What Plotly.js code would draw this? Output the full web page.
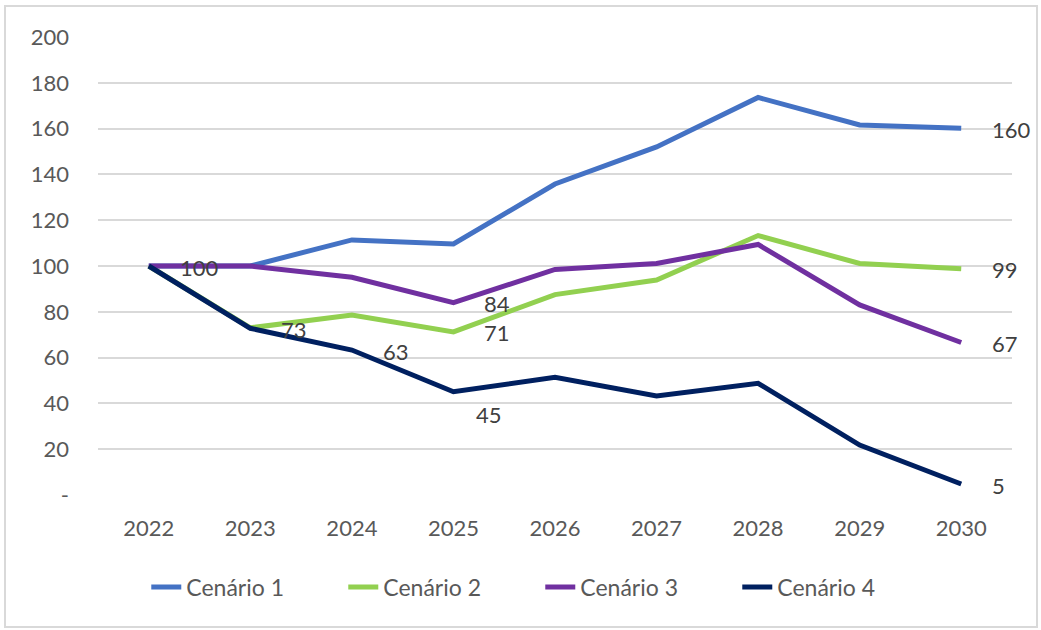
<!DOCTYPE html>
<html>
<head>
<meta charset="utf-8">
<script src="https://cdn.plot.ly/plotly-3.0.1.min.js"></script>
<style>
  html, body { margin: 0; padding: 0; background: #fff; }
  #chart { position: absolute; left: 0; top: 0; width: 1041px; height: 630px; }
  #frame { position: absolute; left: 4px; top: 5px; width: 1030px; height: 619px;
           border: 2px solid #d9d9d9; pointer-events: none; }
</style>
</head>
<body>
<div id="chart"></div>
<div id="frame"></div>
<script>
const years = ['2022','2023','2024','2025','2026','2027','2028','2029','2030'];
const seriesNames = ['Cenário 1','Cenário 2','Cenário 3','Cenário 4'];
const cenario1 = [100, 100, 111.4, 109.6, 135.8, 152.0, 173.6, 161.6, 160.1];
const cenario2 = [100, 73.0, 78.6, 71.2, 87.5, 93.9, 113.3, 101.1, 98.8];
const cenario3 = [100, 100, 95.1, 84.0, 98.5, 101.1, 109.4, 83.0, 66.6];
const cenario4 = [100, 72.8, 63.3, 45.1, 51.4, 43.2, 48.8, 21.8, 4.8];
const colors = ['#4472C4', '#92D050', '#7030A0', '#002060'];
const yTickVals = [0, 20, 40, 60, 80, 100, 120, 140, 160, 180, 200];
const yTickText = ['-', '20', '40', '60', '80', '100', '120', '140', '160', '180', '200'];

// data labels: [seriesIndex, yearIndex, below?]
const labelPoints = [
  [2, 0, false], [3, 1, false], [3, 2, false], [3, 3, true],
  [2, 3, false], [1, 3, false], [0, 8, false], [1, 8, false],
  [2, 8, false], [3, 8, false]
];

const allSeries = [cenario1, cenario2, cenario3, cenario4];
const font = 'Lato, "Open Sans", sans-serif';

const traces = allSeries.map((vals, i) => ({
  x: years, y: vals, name: seriesNames[i], type: 'scatter', mode: 'lines',
  line: { color: colors[i], width: 5 }, hoverinfo: 'skip'
}));

// on a category axis, annotation x is given as the category index
const annotations = labelPoints.map(([s, k, below]) => ({
  x: k, y: allSeries[s][k], xref: 'x', yref: 'y',
  text: String(Math.round(allSeries[s][k])),
  showarrow: false, xanchor: 'left', yanchor: 'middle',
  xshift: below ? 21 : 29, yshift: below ? -23 : -1,
  font: { family: font, size: 22, color: '#404040' }
}));

const layout = {
  width: 1041, height: 630,
  margin: { l: 98, r: 29, t: 37, b: 135 },
  paper_bgcolor: '#ffffff', plot_bgcolor: '#ffffff',
  font: { family: font, size: 22, color: '#595959' },
  showlegend: true,
  legend: {
    orientation: 'h', xref: 'container', yref: 'container',
    x: 0.519, xanchor: 'center', y: 0.068, yanchor: 'middle',
    font: { family: font, size: 23, color: '#595959' },
    entrywidth: 152, traceorder: 'normal'
  },
  xaxis: {
    type: 'category', categoryorder: 'array', categoryarray: years,
    range: [-0.5, years.length - 0.5], autorange: false,
    showgrid: false, zeroline: false, showline: false,
    ticks: '', ticklabelstandoff: 18,
    tickfont: { family: font, size: 22, color: '#595959' },
    fixedrange: true
  },
  yaxis: {
    range: [0, 200], autorange: false, tickvals: yTickVals, ticktext: yTickText,
    showgrid: true, gridcolor: '#d9d9d9', gridwidth: 2,
    zeroline: false, showline: false, ticks: '', ticklabelstandoff: 28,
    tickfont: { family: font, size: 22, color: '#595959' },
    fixedrange: true
  },
  annotations: annotations
};

Plotly.newPlot('chart', traces, layout, { displayModeBar: false, staticPlot: true });
</script>
</body>
</html>
